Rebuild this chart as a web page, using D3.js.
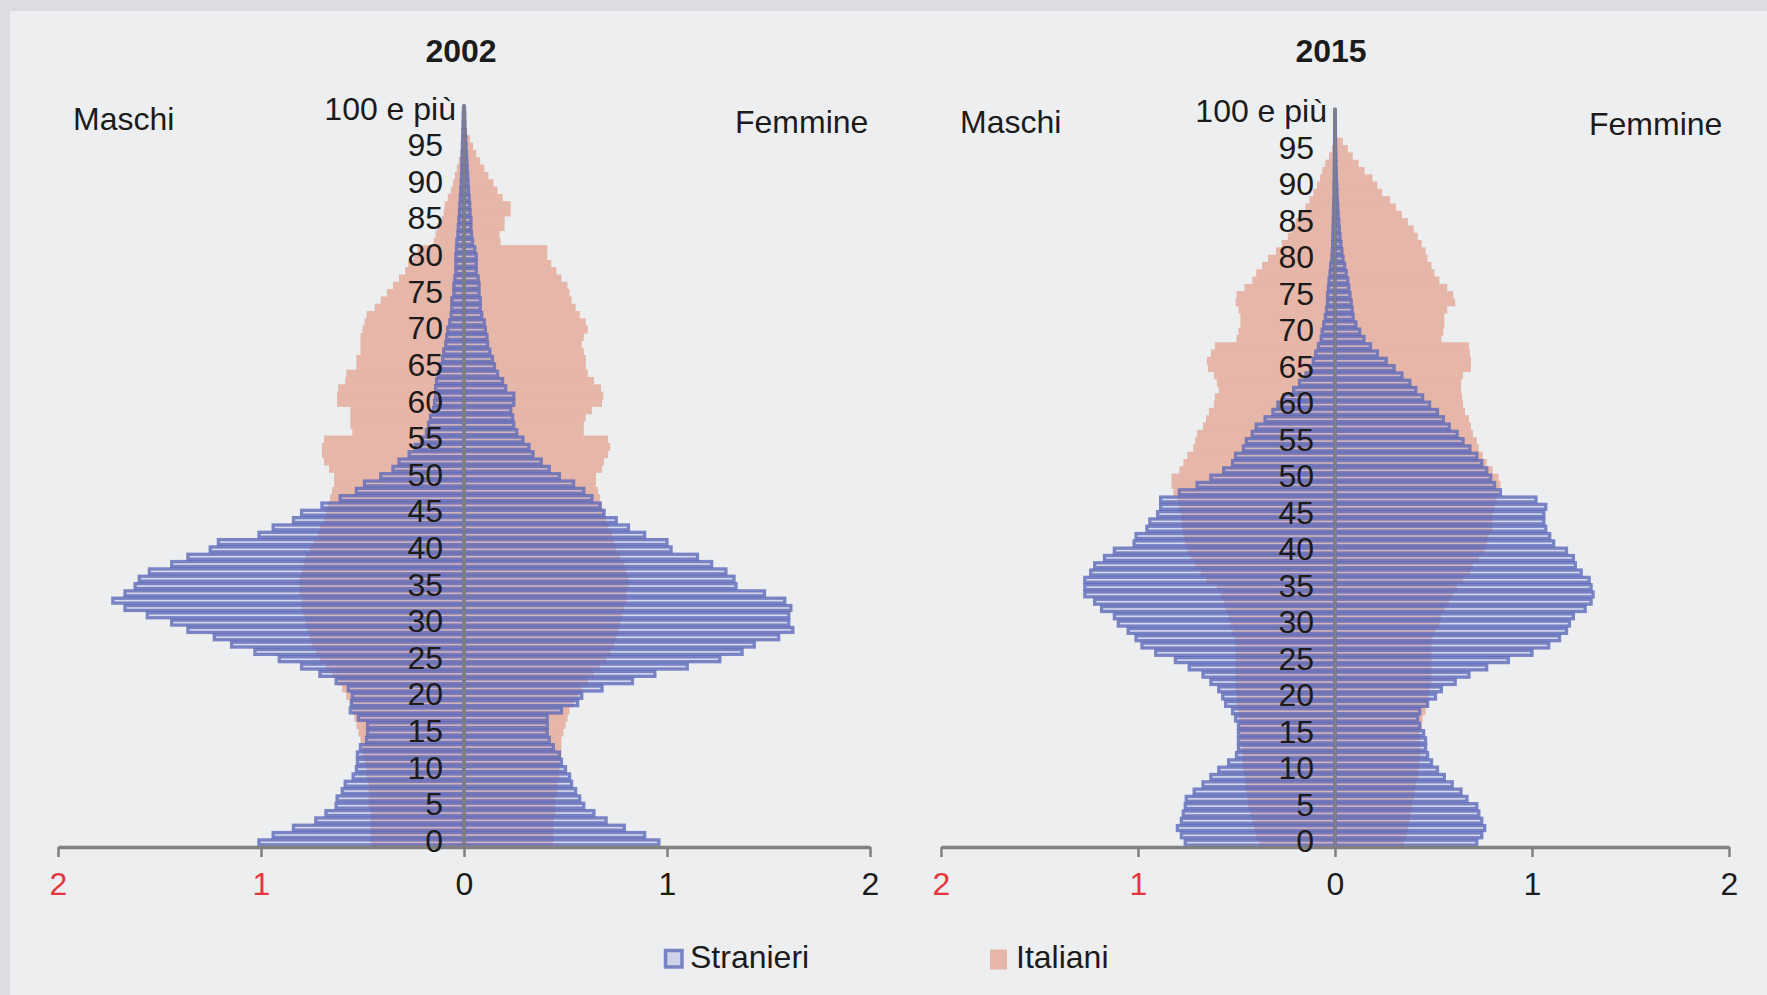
<!DOCTYPE html>
<meta charset="utf-8">
<html>
<style>
  body { margin: 0; background: #edeef0; }
  text { font-family: "Liberation Sans", Arial, sans-serif; fill: #1b1b1b; }
</style>
<body>
<script src="https://cdn.jsdelivr.net/npm/d3@7"></script>
<script>
// eta' 0..100 (100 = "100 e più")
var ages = d3.range(0, 101);
var xTicks = [-2, -1, 0, 1, 2];

// 2002 - Italiani (% per eta')
var itaM2002 = [0.46, 0.46, 0.46, 0.46, 0.46, 0.47, 0.47, 0.47, 0.47, 0.48,
  0.48, 0.49, 0.50, 0.50, 0.51, 0.52, 0.53, 0.54, 0.55, 0.56,
  0.58, 0.60, 0.62, 0.65, 0.68, 0.71, 0.73, 0.75, 0.76, 0.77,
  0.78, 0.79, 0.80, 0.80, 0.81, 0.81, 0.81, 0.80, 0.79, 0.78,
  0.76, 0.74, 0.72, 0.71, 0.69, 0.68, 0.67, 0.66, 0.65, 0.64,
  0.64, 0.665, 0.69, 0.70, 0.70, 0.69, 0.55, 0.56, 0.56, 0.56,
  0.625, 0.625, 0.62, 0.585, 0.58, 0.53, 0.53, 0.51, 0.51, 0.51,
  0.50, 0.49, 0.48, 0.44, 0.41, 0.38, 0.35, 0.32, 0.29, 0.275,
  0.25, 0.23, 0.15, 0.14, 0.13, 0.11, 0.10, 0.095, 0.08, 0.065,
  0.054, 0.045, 0.035, 0.026, 0.018, 0.012, 0.008, 0.005, 0.003, 0.002, 0.001];
var itaF2002 = [0.44, 0.44, 0.44, 0.44, 0.45, 0.45, 0.45, 0.46, 0.46, 0.47,
  0.47, 0.47, 0.48, 0.48, 0.48, 0.49, 0.50, 0.51, 0.52, 0.54,
  0.56, 0.58, 0.61, 0.64, 0.67, 0.70, 0.72, 0.74, 0.75, 0.76,
  0.77, 0.78, 0.79, 0.80, 0.80, 0.81, 0.81, 0.80, 0.79, 0.77,
  0.75, 0.74, 0.73, 0.71, 0.70, 0.69, 0.68, 0.67, 0.66, 0.65,
  0.65, 0.68, 0.69, 0.71, 0.72, 0.71, 0.59, 0.59, 0.60, 0.63,
  0.68, 0.686, 0.675, 0.64, 0.61, 0.60, 0.60, 0.59, 0.58, 0.59,
  0.61, 0.60, 0.57, 0.55, 0.53, 0.52, 0.51, 0.48, 0.455, 0.43,
  0.41, 0.41, 0.18, 0.175, 0.20, 0.20, 0.23, 0.23, 0.19, 0.165,
  0.145, 0.12, 0.10, 0.08, 0.06, 0.045, 0.03, 0.015, 0.008, 0.004, 0.003];

// 2002 - Stranieri
var strM2002 = [1.01, 0.94, 0.84, 0.73, 0.68, 0.63, 0.625, 0.60, 0.585, 0.546,
  0.53, 0.525, 0.525, 0.51, 0.48, 0.475, 0.475, 0.52, 0.56, 0.555,
  0.55, 0.57, 0.63, 0.71, 0.80, 0.91, 1.03, 1.145, 1.23, 1.36,
  1.44, 1.56, 1.67, 1.73, 1.67, 1.62, 1.60, 1.55, 1.44, 1.36,
  1.25, 1.21, 1.01, 0.94, 0.84, 0.80, 0.70, 0.61, 0.53, 0.49,
  0.41, 0.35, 0.32, 0.27, 0.24, 0.21, 0.185, 0.175, 0.165, 0.15,
  0.145, 0.14, 0.14, 0.135, 0.125, 0.115, 0.105, 0.10, 0.09, 0.085,
  0.08, 0.07, 0.063, 0.06, 0.06, 0.05, 0.05, 0.045, 0.04, 0.04,
  0.04, 0.037, 0.035, 0.03, 0.028, 0.025, 0.022, 0.02, 0.018, 0.016,
  0.014, 0.012, 0.011, 0.01, 0.009, 0.008, 0.007, 0.006, 0.005, 0.004, 0.003];
var strF2002 = [0.96, 0.89, 0.79, 0.70, 0.64, 0.59, 0.57, 0.55, 0.53, 0.52,
  0.50, 0.48, 0.47, 0.44, 0.42, 0.41, 0.41, 0.41, 0.48, 0.56,
  0.58, 0.68, 0.83, 0.94, 1.10, 1.26, 1.37, 1.43, 1.55, 1.62,
  1.60, 1.60, 1.61, 1.58, 1.48, 1.34, 1.33, 1.29, 1.22, 1.15,
  1.02, 1.00, 0.89, 0.81, 0.75, 0.69, 0.67, 0.63, 0.59, 0.54,
  0.47, 0.42, 0.38, 0.34, 0.32, 0.29, 0.26, 0.245, 0.24, 0.23,
  0.245, 0.245, 0.205, 0.19, 0.165, 0.15, 0.14, 0.127, 0.116, 0.113,
  0.105, 0.10, 0.087, 0.08, 0.08, 0.074, 0.074, 0.07, 0.06, 0.06,
  0.06, 0.053, 0.042, 0.037, 0.034, 0.034, 0.03, 0.028, 0.025, 0.022,
  0.02, 0.018, 0.016, 0.014, 0.012, 0.01, 0.008, 0.006, 0.005, 0.004, 0.003];

// 2015 - Italiani
var itaM2015 = [0.385, 0.40, 0.41, 0.42, 0.43, 0.44, 0.445, 0.45, 0.455, 0.46,
  0.465, 0.47, 0.47, 0.47, 0.48, 0.48, 0.485, 0.485, 0.49, 0.50,
  0.50, 0.505, 0.505, 0.505, 0.505, 0.505, 0.505, 0.505, 0.51, 0.52,
  0.53, 0.54, 0.555, 0.565, 0.58, 0.60, 0.655, 0.68, 0.71, 0.73,
  0.75, 0.76, 0.77, 0.775, 0.78, 0.78, 0.79, 0.80, 0.82, 0.83,
  0.83, 0.79, 0.77, 0.75, 0.72, 0.71, 0.70, 0.67, 0.655, 0.64,
  0.615, 0.61, 0.59, 0.60, 0.615, 0.645, 0.65, 0.63, 0.61, 0.50,
  0.49, 0.48, 0.48, 0.49, 0.505, 0.50, 0.46, 0.42, 0.40, 0.37,
  0.34, 0.30, 0.27, 0.24, 0.22, 0.20, 0.18, 0.15, 0.13, 0.11,
  0.092, 0.076, 0.065, 0.05, 0.03, 0.016, 0.01, 0.006, 0.004, 0.002, 0.001];
var itaF2015 = [0.35, 0.365, 0.37, 0.38, 0.385, 0.39, 0.40, 0.405, 0.41, 0.42,
  0.425, 0.43, 0.43, 0.43, 0.43, 0.43, 0.44, 0.445, 0.46, 0.47,
  0.475, 0.48, 0.49, 0.49, 0.49, 0.49, 0.49, 0.49, 0.495, 0.51,
  0.53, 0.54, 0.555, 0.58, 0.60, 0.62, 0.65, 0.685, 0.70, 0.73,
  0.76, 0.77, 0.78, 0.80, 0.80, 0.80, 0.81, 0.82, 0.83, 0.84,
  0.83, 0.80, 0.77, 0.75, 0.73, 0.72, 0.70, 0.69, 0.68, 0.66,
  0.65, 0.645, 0.64, 0.64, 0.65, 0.69, 0.69, 0.685, 0.68, 0.54,
  0.55, 0.555, 0.555, 0.57, 0.61, 0.60, 0.57, 0.53, 0.505, 0.49,
  0.47, 0.46, 0.44, 0.42, 0.40, 0.37, 0.34, 0.31, 0.28, 0.24,
  0.215, 0.19, 0.15, 0.12, 0.09, 0.065, 0.04, 0.01, 0.006, 0.004, 0.002];

// 2015 - Stranieri
var strM2015 = [0.76, 0.78, 0.80, 0.78, 0.77, 0.76, 0.755, 0.715, 0.67, 0.63,
  0.59, 0.54, 0.50, 0.49, 0.49, 0.49, 0.49, 0.505, 0.52, 0.555,
  0.57, 0.59, 0.63, 0.67, 0.74, 0.81, 0.91, 0.98, 1.01, 1.05,
  1.10, 1.12, 1.185, 1.22, 1.27, 1.27, 1.27, 1.24, 1.22, 1.17,
  1.12, 1.02, 1.01, 0.955, 0.94, 0.90, 0.885, 0.885, 0.79, 0.70,
  0.63, 0.565, 0.52, 0.505, 0.465, 0.45, 0.42, 0.40, 0.355, 0.315,
  0.29, 0.26, 0.21, 0.18, 0.147, 0.125, 0.11, 0.098, 0.084, 0.07,
  0.065, 0.057, 0.049, 0.043, 0.038, 0.038, 0.033, 0.03, 0.025, 0.022,
  0.016, 0.014, 0.012, 0.011, 0.01, 0.009, 0.008, 0.007, 0.006, 0.005,
  0.005, 0.004, 0.004, 0.003, 0.003, 0.002, 0.002, 0.002, 0.001, 0.001, 0.001];
var strF2015 = [0.72, 0.745, 0.76, 0.745, 0.73, 0.72, 0.67, 0.64, 0.595, 0.555,
  0.52, 0.49, 0.47, 0.46, 0.46, 0.45, 0.43, 0.42, 0.43, 0.47,
  0.51, 0.54, 0.61, 0.68, 0.77, 0.88, 1.00, 1.085, 1.14, 1.175,
  1.19, 1.21, 1.27, 1.30, 1.31, 1.30, 1.29, 1.25, 1.22, 1.21,
  1.175, 1.11, 1.09, 1.07, 1.06, 1.06, 1.07, 1.02, 0.84, 0.81,
  0.79, 0.77, 0.745, 0.72, 0.685, 0.65, 0.62, 0.58, 0.55, 0.52,
  0.48, 0.445, 0.41, 0.38, 0.34, 0.30, 0.26, 0.215, 0.18, 0.147,
  0.125, 0.106, 0.092, 0.087, 0.082, 0.076, 0.07, 0.065, 0.057, 0.049,
  0.041, 0.035, 0.03, 0.025, 0.022, 0.019, 0.016, 0.014, 0.012, 0.01,
  0.009, 0.007, 0.006, 0.005, 0.004, 0.003, 0.003, 0.002, 0.002, 0.001, 0.001];

var salmon = "#e6b6a9";
var blue = "#5b68b8";
var red = "#e5363f";
var axisGray = "#808080";

var svg = d3.select("body").append("svg")
    .attr("width", 1767)
    .attr("height", 995);

// cornice grigia in alto e a sinistra
svg.append("rect").attr("width", 1767).attr("height", 995).attr("fill", "#dcdde0");
svg.append("rect").attr("x", 10).attr("y", 11).attr("width", 1757).attr("height", 984).attr("fill", "#edeef0");

function drawPyramid(cfg, itaM, itaF, strM, strF) {
  var g = svg.append("g");
  var x = d3.scaleLinear().domain([-2, 2]).range(cfg.xRange);
  var y = d3.scaleBand().domain(ages).range(cfg.yRange).padding(0);
  var bw = y.bandwidth();

  // Italiani: barre piene senza bordo
  g.append("g").selectAll("rect").data(ages).join("rect")
      .attr("x", function (d) { return x(-itaM[d]); })
      .attr("width", function (d) { return x(0) - x(-itaM[d]); })
      .attr("y", function (d) { return y(d) - 0.3; })
      .attr("height", bw + 0.6)
      .attr("fill", salmon);
  g.append("g").selectAll("rect").data(ages).join("rect")
      .attr("x", x(0))
      .attr("width", function (d) { return x(itaF[d]) - x(0); })
      .attr("y", function (d) { return y(d) - 0.3; })
      .attr("height", bw + 0.6)
      .attr("fill", salmon);

  // Stranieri: barre con bordo blu, riempimento chiaro trasparente
  var pad = 1.2;
  function strBars(vals, side) {
    g.append("g").selectAll("rect").data(ages).join("rect")
        .attr("x", function (d) { return side < 0 ? x(-vals[d]) : x(0); })
        .attr("width", function (d) { return Math.abs(x(side * vals[d]) - x(0)); })
        .attr("y", function (d) { return y(d) + pad; })
        .attr("height", bw - 2 * pad)
        .attr("fill", "rgba(170,178,225,0.35)")
        .attr("stroke", blue)
        .attr("stroke-opacity", 0.78)
        .attr("stroke-width", 3.3);
  }
  strBars(strM, -1);
  strBars(strF, 1);

  // asse orizzontale
  var xAxis = d3.axisBottom(x)
      .tickValues(xTicks)
      .tickFormat(function (d) { return Math.abs(d); })
      .tickSize(10)
      .tickSizeOuter(0)
      .tickPadding(15);
  var gx = g.append("g")
      .attr("transform", "translate(0," + cfg.axisY + ")")
      .call(xAxis);
  gx.select(".domain").attr("stroke", axisGray).attr("stroke-width", 3.5);
  gx.selectAll(".tick line").attr("stroke", axisGray).attr("stroke-width", 2.5);
  gx.selectAll(".tick text")
      .attr("font-size", 32)
      .attr("font-family", "Liberation Sans, Arial, sans-serif")
      .style("fill", function (d) { return d < 0 ? red : "#1b1b1b"; });

  // asse verticale con le eta'
  var yAxis = d3.axisLeft(y)
      .tickValues(ages.filter(function (a) { return a % 5 === 0; }))
      .tickFormat(function (a) { return a === 100 ? "100 e più" : a; })
      .tickSize(0)
      .tickSizeOuter(0)
      .tickPadding(21);
  var gy = g.append("g")
      .attr("transform", "translate(" + x(0) + ",0)")
      .call(yAxis);
  gy.select(".domain").attr("stroke", axisGray).attr("stroke-width", 3)
      .attr("d", "M0," + (cfg.axisY) + "V" + cfg.axisTop);
  gy.selectAll(".tick text")
      .attr("font-size", 32)
      .attr("font-family", "Liberation Sans, Arial, sans-serif")
      .attr("dy", "0.3em")
      .filter(function (a) { return a === 100; })
      .attr("x", -8);

  // titolo e etichette
  g.append("text").attr("x", cfg.titleX).attr("y", 61.5)
      .attr("text-anchor", "middle").attr("font-size", 32).attr("font-weight", "bold")
      .text(cfg.title);
  g.append("text").attr("x", cfg.maschiX).attr("y", cfg.maschiY)
      .attr("font-size", 32).text("Maschi");
  g.append("text").attr("x", cfg.femmineX).attr("y", cfg.femmineY)
      .attr("font-size", 32).text("Femmine");
}

drawPyramid({
  title: "2002", titleX: 461,
  xRange: [58, 870], yRange: [846, 106.3], axisY: 847, axisTop: 104,
  maschiX: 73, maschiY: 129.5, femmineX: 735, femmineY: 133
}, itaM2002, itaF2002, strM2002, strF2002);

drawPyramid({
  title: "2015", titleX: 1331,
  xRange: [941, 1729], yRange: [846.3, 108.9], axisY: 847, axisTop: 107.5,
  maschiX: 960, maschiY: 133, femmineX: 1589, femmineY: 135
}, itaM2015, itaF2015, strM2015, strF2015);

// legenda
var legend = svg.append("g");
legend.append("rect").attr("x", 665.5).attr("y", 950.5).attr("width", 16.5).attr("height", 16.5)
    .attr("fill", "rgba(170,178,225,0.45)").attr("stroke", blue).attr("stroke-opacity", 0.78).attr("stroke-width", 3.5);
legend.append("text").attr("x", 690).attr("y", 968).attr("font-size", 32).text("Stranieri");
legend.append("rect").attr("x", 990).attr("y", 949.5).attr("width", 17).attr("height", 20)
    .attr("fill", salmon);
legend.append("text").attr("x", 1016).attr("y", 968).attr("font-size", 32).text("Italiani");
</script>
</body>
</html>
